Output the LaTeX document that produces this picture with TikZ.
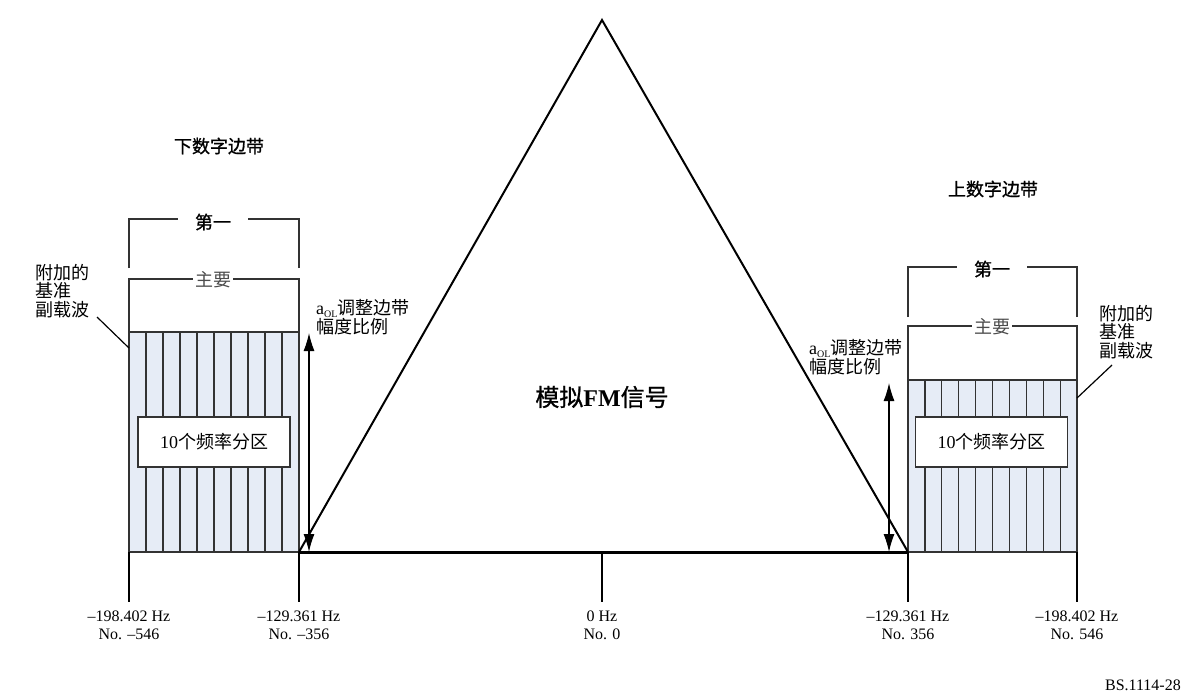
\documentclass[tikz,border=0pt]{standalone}
\usepackage{fontspec}
\setmainfont{Liberation Serif}
\newfontfamily\cjk{Noto Sans CJK SC}
\newfontfamily\cjkheavy[FakeBold=1]{Noto Sans CJK SC}
\usetikzlibrary{arrows.meta}
\tikzset{>={Latex[length=18pt,width=11pt]}}
\definecolor{bandblue}{HTML}{E6ECF6}
\definecolor{darkline}{HTML}{333333}

\begin{document}
\begin{tikzpicture}[x=1pt,y=-1pt,
    cjklbl/.style={font=\fontsize{18}{18}\selectfont\cjk, inner sep=0pt},
    headlbl/.style={font=\fontsize{18}{18}\selectfont\cjkheavy, inner sep=0pt},
    multilbl/.style={font=\fontsize{18}{18.5}\selectfont\cjk, inner sep=0pt, align=left, anchor=north west},
    freqlbl/.style={font=\fontsize{16}{18}\selectfont, inner sep=0pt, align=center, anchor=north},
    brack/.style={line width=2pt, draw=darkline},
    partbox/.style={draw=darkline, line width=1.5pt, fill=white, minimum width=152pt, minimum height=50pt,
      font=\fontsize{18}{18}\selectfont},
    ampl/.style={font=\fontsize{18}{19.5}\selectfont\cjk, inner sep=0pt, align=left, anchor=north west}]
  \useasboundingbox (0,0) rectangle (1190,697);

  % digital sidebands
  \fill[bandblue] (129,332) rectangle (299,552);
  \fill[bandblue] (908,380) rectangle (1077,552);
  \foreach \i in {1,...,9} {
    \draw[darkline, line width=1.2pt] (129+17*\i,332) -- (129+17*\i,552);
    \draw[darkline, line width=1.2pt] (908+16.9*\i,380) -- (908+16.9*\i,552);
  }
  \draw[darkline, line width=1.5pt] (129,332) rectangle (299,552);
  \draw[darkline, line width=1.5pt] (908,380) rectangle (1077,552);
  \node[partbox] (lowpart) at (214,442) {10{\cjk 个频率分区}};
  \node[partbox] (uppart) at (991.5,442) {10{\cjk 个频率分区}};

  % analog FM signal
  \coordinate (apex) at (602,20);
  \coordinate (baseL) at (299,552);
  \coordinate (baseR) at (908,552);
  \draw[line width=2pt, line join=miter] (baseL) -- (apex) -- (baseR);
  \draw[line width=3pt] (baseL) -- (baseR);
  \node[font=\fontsize{24}{24}\selectfont, inner sep=0pt] (fm) at (602,397)
    {{\cjkheavy 模拟}\textbf{FM}{\cjkheavy 信号}};

  % frequency ticks
  \foreach \x/\hz/\no [count=\k] in {129/{--198.402 Hz}/{No. --546}, 299/{--129.361 Hz}/{No. --356},
      602/{0 Hz}/{No. 0}, 908/{--129.361 Hz}/{No. 356}, 1077/{--198.402 Hz}/{No. 546}} {
    \draw[line width=1.5pt] (\x,552) -- (\x,602);
    \node[freqlbl] (tick\k) at (\x,611) {\hz\\\no};
  }

  % headings
  \node[headlbl] (lowband) at (219,146) {下数字边带};
  \node[headlbl] (upband) at (993,189) {上数字边带};

  % brackets, lower sideband
  \node[headlbl, inner xsep=17pt] (lowfirst) at (213,222) {第一};
  \node[cjklbl, text=black!70, inner xsep=2pt] (lowmain) at (213,280) {主要};
  \draw[brack] (129,268) |- (lowfirst.west |- 0,219);
  \draw[brack] (299,268) |- (lowfirst.east |- 0,219);
  \draw[brack] (129,332) |- (lowmain.west |- 0,279);
  \draw[brack] (299,332) |- (lowmain.east |- 0,279);

  % brackets, upper sideband
  \node[headlbl, inner xsep=17pt] (upfirst) at (992,269) {第一};
  \node[cjklbl, text=black!70, inner xsep=2pt] (upmain) at (992,327) {主要};
  \draw[brack] (908,317) |- (upfirst.west |- 0,267);
  \draw[brack] (1077,317) |- (upfirst.east |- 0,267);
  \draw[brack] (908,380) |- (upmain.west |- 0,326);
  \draw[brack] (1077,380) |- (upmain.east |- 0,326);

  % reference subcarriers
  \node[multilbl] (lowref) at (35,264) {附加的\\基准\\副载波};
  \node[multilbl] (upref) at (1099,305) {附加的\\基准\\副载波};
  \coordinate (lowrefend) at (129,348);
  \coordinate (uprefend) at (1077,398);
  \draw[line width=1.2pt] (97,317) -- (lowrefend);
  \draw[line width=1.2pt] (1112,365) -- (uprefend);

  % amplitude scaling
  \node[ampl] (lowampl) at (316,299)
    {{\rmfamily a\raisebox{-3pt}{\fontsize{10}{10}\selectfont OL}}调整边带\\幅度比例};
  \node[ampl] (upampl) at (809,339)
    {{\rmfamily a\raisebox{-3pt}{\fontsize{10}{10}\selectfont OL}}调整边带\\幅度比例};
  \coordinate (lowtop) at (309,333);
  \coordinate (lowbot) at (309,552);
  \coordinate (uptop) at (889,383);
  \coordinate (upbot) at (889,552);
  \draw[<->, line width=1.2pt] (lowtop) -- (lowbot);
  \draw[<->, line width=1.2pt] (uptop) -- (upbot);

  \node[font=\fontsize{16}{16}\selectfont, anchor=east, inner sep=0pt] (figno) at (1181,685) {BS.1114-28};
\end{tikzpicture}
\end{document}
